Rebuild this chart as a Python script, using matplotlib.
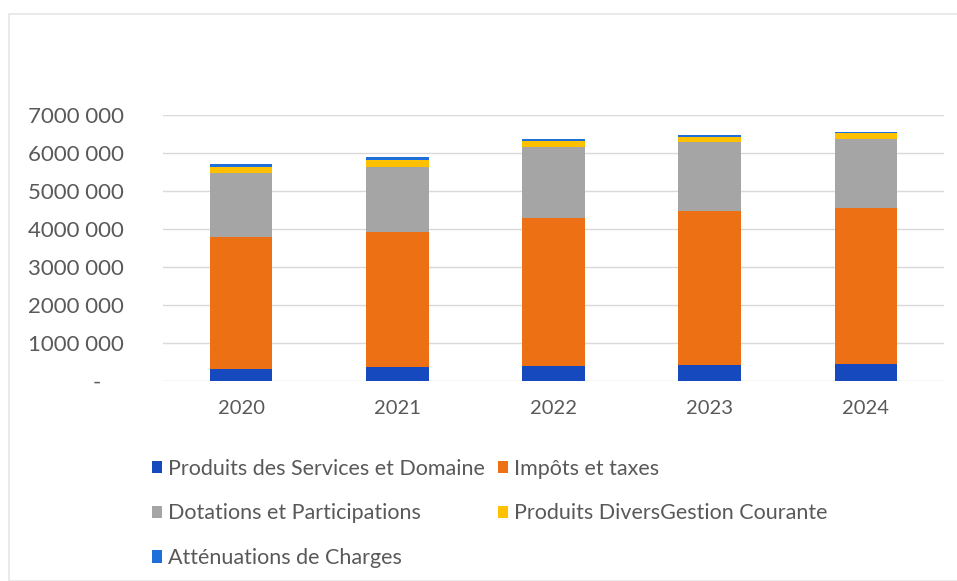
import matplotlib.pyplot as plt
import numpy as np
from matplotlib.patches import Rectangle
from matplotlib.ticker import FuncFormatter

plt.rcParams["font.family"] = ["Lato", "DejaVu Sans"]

years = ["2020", "2021", "2022", "2023", "2024"]
series_names = [
    "Produits des Services et Domaine",
    "Impôts et taxes",
    "Dotations et Participations",
    "Produits DiversGestion Courante",
    "Atténuations de Charges",
]
produits_services = [310000, 380000, 400000, 420000, 460000]
impots_taxes = [3490000, 3550000, 3880000, 4050000, 4080000]
dotations = [1670000, 1710000, 1890000, 1810000, 1820000]
produits_divers = [170000, 180000, 150000, 140000, 170000]
attenuations = [60000, 70000, 40000, 50000, 30000]
yticks = [0, 1000000, 2000000, 3000000, 4000000, 5000000, 6000000, 7000000]

colors = ["#1649BE", "#EE7015", "#A5A5A5", "#FFC000", "#1F6FDB"]
TEXT = "#595959"


def fmt(v, _):
    if v == 0:
        return "-    "  # accounting format: dash sits left of the column edge
    s = f"{int(v):,}".replace(",", " ")
    # Excel shows the first group glued: "7000 000"
    parts = s.split(" ")
    return "".join(parts[:-1]) + " " + parts[-1]


fig = plt.figure(figsize=(9.57, 5.81), dpi=100)
fig.patches.append(
    Rectangle((9 / 957, 0), 1.0, 1 - 14 / 581, transform=fig.transFigure,
              fill=False, edgecolor="#E6E6E6", linewidth=1.2)
)
ax = fig.add_axes([163 / 957, 1 - 381 / 581, (944 - 163) / 957, (381 - 115) / 581])

x = np.arange(len(years))
data = [produits_services, impots_taxes, dotations, produits_divers, attenuations]
bottom = np.zeros(len(years))
handles = []
for vals, name, c in zip(data, series_names, colors):
    h = ax.bar(x, vals, width=0.4, bottom=bottom, color=c, label=name, zorder=3)
    handles.append(h)
    bottom += np.array(vals)

ax.set_xlim(-0.5, len(years) - 0.5)
ax.set_ylim(0, 7000000)
ax.set_yticks(yticks)
ax.yaxis.set_major_formatter(FuncFormatter(fmt))
ax.set_xticks(x)
ax.set_xticklabels(years)
ax.grid(axis="y", color="#D9D9D9", linewidth=1, zorder=0)
for s in ax.spines.values():
    s.set_visible(False)
ax.tick_params(axis="both", length=0, colors=TEXT, labelcolor=TEXT)
ax.tick_params(axis="x", labelsize=14.5, pad=14)
ax.tick_params(axis="y", labelsize=16, pad=28)
for lab in ax.get_yticklabels():
    lab.set_horizontalalignment("right")

order = [0, 2, 4, 1, 3]
leg = fig.legend(
    [handles[i] for i in order],
    [series_names[i] for i in order],
    ncol=2,
    loc="upper left",
    bbox_to_anchor=(143 / 957, 1 - 450 / 581),
    frameon=False,
    fontsize=15.5,
    handlelength=0.5,
    handleheight=0.5,
    handletextpad=0.25,
    columnspacing=0.6,
    labelspacing=1.15,
    borderaxespad=0,
)
for t in leg.get_texts():
    t.set_color(TEXT)

fig.savefig("out.png", dpi=100, facecolor="white")
